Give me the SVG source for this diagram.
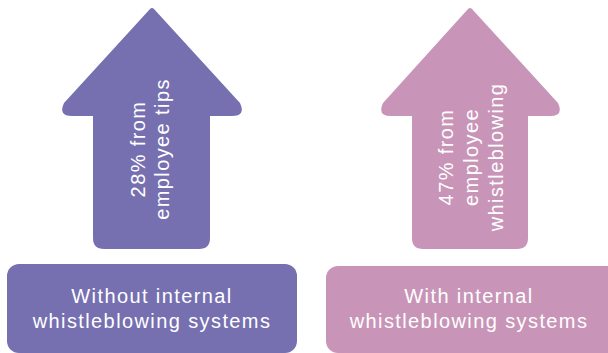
<svg xmlns="http://www.w3.org/2000/svg" width="608" height="353" viewBox="0 0 608 353">
<style>
.purple{fill:#7670B1}
.pink{fill:#C895B8}
.t{font-family:"Liberation Sans",Arial,sans-serif;font-size:20px;fill:#ffffff;letter-spacing:1.4px;text-anchor:middle}
</style>
<rect width="608" height="353" fill="#ffffff"/>
<g id="arrow-without">
<path class="purple" d="M150,9 Q152,7 154,9 L240,103 Q246,116 232,116 L210,116 L210,238 Q210,249 199,249 L104,249 Q93,249 93,238 L93,116 L72,116 Q58,116 64,103 Z"/>
<text class="t" transform="translate(145,149) rotate(-90)">28% from</text>
<text class="t" transform="translate(169,149) rotate(-90)">employee tips</text>
</g>
<g id="arrow-with">
<path class="pink" d="M468,9 Q470,7 472,9 L558,103 Q564,116 550,116 L528,116 L528,238 Q528,249 517,249 L423,249 Q412,249 412,238 L412,116 L391,116 Q377,116 383,103 Z"/>
<text class="t" transform="translate(453,157) rotate(-90)">47% from</text>
<text class="t" transform="translate(478,157) rotate(-90)">employee</text>
<text class="t" transform="translate(503,157) rotate(-90)">whistleblowing</text>
</g>
<g id="box-without">
<rect class="purple" x="7" y="264" width="290" height="89" rx="12"/>
<text class="t" x="152" y="303">Without internal</text>
<text class="t" x="152" y="328">whistleblowing systems</text>
</g>
<g id="box-with">
<rect class="pink" x="326" y="266" width="294" height="87" rx="12"/>
<text class="t" x="469" y="303">With internal</text>
<text class="t" x="469" y="328">whistleblowing systems</text>
</g>
<g id="connectors"></g>
</svg>
